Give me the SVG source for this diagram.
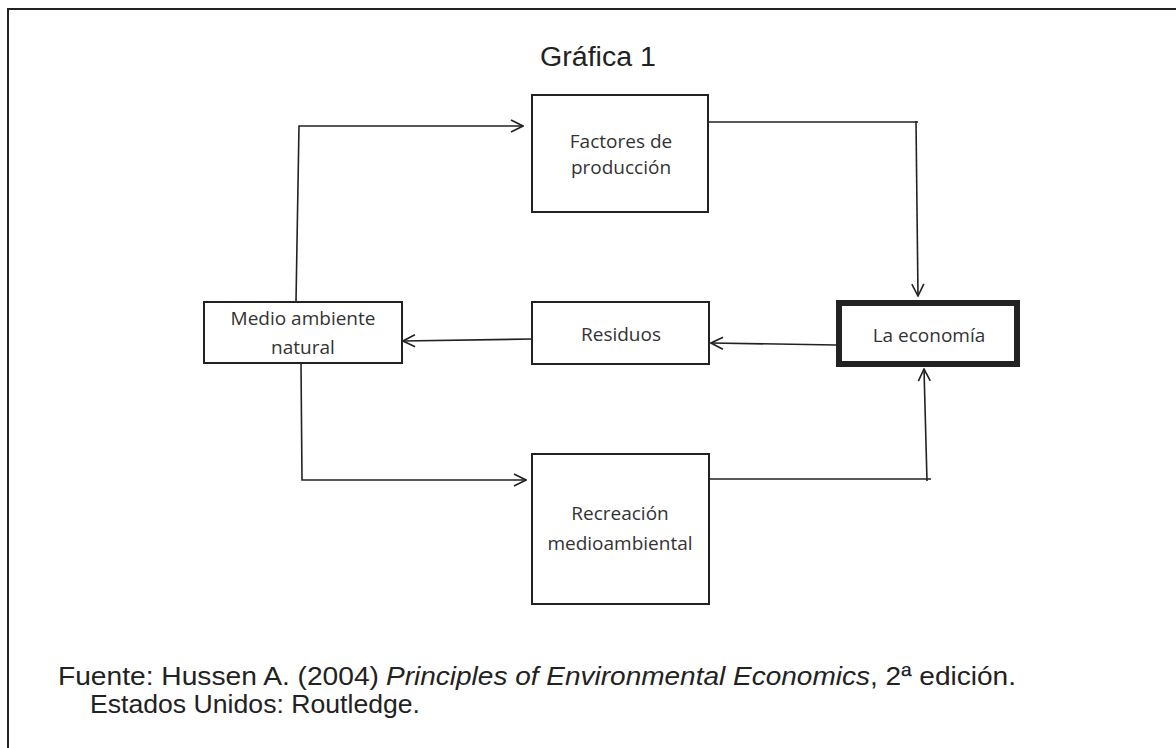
<svg xmlns="http://www.w3.org/2000/svg" width="1176" height="748" viewBox="0 0 1176 748">
<style>
.box{fill:#fff;stroke:#222;stroke-width:2}
.thick{fill:#fff;stroke:#222;stroke-width:6}
.lbl{font-family:"Open Sans","Liberation Sans",sans-serif;font-size:19px;fill:#333;text-anchor:middle}
.con{fill:none;stroke:#222;stroke-width:1.6}
.ttl{font-family:"Liberation Sans",Arial,sans-serif;fill:#222}
.ft{font-family:"Liberation Sans",Arial,sans-serif;fill:#222;font-size:25px}
</style>
<defs>
<marker id="ah" markerUnits="userSpaceOnUse" viewBox="0 0 14 14" refX="13" refY="7" markerWidth="14" markerHeight="14" orient="auto">
<path d="M1,1 L13,7 L1,13" fill="none" stroke="#222" stroke-width="1.6"/>
</marker>
</defs>
<rect x="0" y="0" width="1176" height="748" fill="#fff"/>
<path d="M8,748 L8,9 L1176,9" fill="none" stroke="#222" stroke-width="2"/>
<text class="ttl" x="540" y="66" font-size="27" textLength="116" lengthAdjust="spacingAndGlyphs">Gráfica 1</text>
<g id="connectors">
<polyline class="con" points="296,302 299,126 523,126" marker-end="url(#ah)"/>
<polyline class="con" points="708,122 918,122"/>
<polyline class="con" points="916,121 918,296" marker-end="url(#ah)"/>
<line class="con" x1="836" y1="345" x2="711" y2="343" marker-end="url(#ah)"/>
<line class="con" x1="532" y1="339" x2="403" y2="341" marker-end="url(#ah)"/>
<polyline class="con" points="301,363 302,480 526,480" marker-end="url(#ah)"/>
<polyline class="con" points="709,479 931,479"/>
<polyline class="con" points="927,481 924,369" marker-end="url(#ah)"/>
</g>
<g id="factores">
<rect class="box" x="532" y="95" width="176" height="117"/>
<text class="lbl" x="621" y="148">Factores de</text>
<text class="lbl" x="621" y="174">producción</text>
</g>
<g id="medio">
<rect class="box" x="204" y="302" width="198" height="61"/>
<text class="lbl" x="303" y="325">Medio ambiente</text>
<text class="lbl" x="303" y="354">natural</text>
</g>
<g id="residuos">
<rect class="box" x="532" y="302" width="177" height="62"/>
<text class="lbl" x="621" y="341">Residuos</text>
</g>
<g id="economia">
<rect class="thick" x="839" y="303" width="178" height="61"/>
<text class="lbl" x="929" y="342">La economía</text>
</g>
<g id="recreacion">
<rect class="box" x="532" y="454" width="177" height="150"/>
<text class="lbl" x="620" y="520">Recreación</text>
<text class="lbl" x="620" y="550">medioambiental</text>
</g>
<g id="fuente">
<text class="ft" x="58" y="685" textLength="321" lengthAdjust="spacingAndGlyphs">Fuente: Hussen A. (2004)</text>
<text class="ft" x="386" y="685" font-style="italic" textLength="484" lengthAdjust="spacingAndGlyphs">Principles of Environmental Economics</text>
<text class="ft" x="870" y="685" textLength="146" lengthAdjust="spacingAndGlyphs">, 2ª edición.</text>
<text class="ft" x="90" y="713" textLength="330" lengthAdjust="spacingAndGlyphs">Estados Unidos: Routledge.</text>
</g>
</svg>
